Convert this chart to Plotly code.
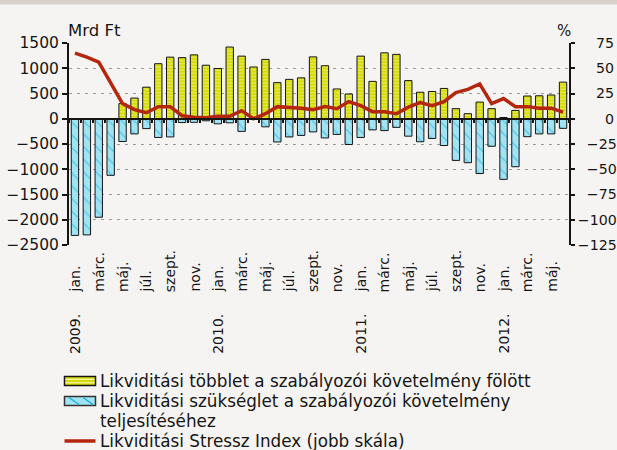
import plotly.graph_objects as go

# ---------------- data ----------------
month_names = ["jan.", "febr.", "márc.", "ápr.", "máj.", "jún.",
               "júl.", "aug.", "szept.", "okt.", "nov.", "dec."]
years = ["2009.", "2010.", "2011.", "2012."]
periods = [f"{y} {m}" for y in years for m in month_names][:42]   # 2009. jan. – 2012. jún.

tick_months = ["jan.", "márc.", "máj.", "júl.", "szept.", "nov."]

# Mrd Ft, left scale
surplus = [0, 0, 0, 0, 300, 410, 625, 1090, 1220, 1210,
           1265, 1060, 995, 1420, 1240, 1025, 1175, 715, 780, 810,
           1225, 1050, 590, 490, 1240, 740, 1305, 1275, 755, 525,
           540, 600, 200, 100, 330, 200, 25, 165, 450, 455,
           470, 725]
shortfall = [-2310, -2300, -1950, -1120, -450, -300, -195, -370, -360, -75,
             -70, -40, -100, -80, -250, -15, -160, -460, -360, -330,
             -260, -380, -310, -510, -370, -220, -235, -170, -345, -455,
             -390, -530, -825, -870, -1085, -545, -1200, -950, -355, -300,
             -300, -190]
# %, right scale
stress_index = [65, 61, 56, 36, 15, 9, 6, 12, 12, 3,
                1.5, 1, 2.5, 2.5, 8, 0, 5, 12, 11.5, 10.5,
                9, 12, 10, 17, 13, 7, 7, 5, 11.5, 16,
                13, 17, 26, 29, 34.5, 15, 20, 12, 12, 10.5,
                10.5, 6.5]

left_ticks = [-2500, -2000, -1500, -1000, -500, 0, 500, 1000, 1500]
right_ticks = [-125, -100, -75, -50, -25, 0, 25, 50, 75]

legend_texts = ["Likviditási többlet a szabályozói követelmény fölött",
                "Likviditási szükséglet a szabályozói követelmény",
                "teljesítéséhez",
                "Likviditási Stressz Index (jobb skála)"]
left_title = "Mrd Ft"
right_title = "%"

# ---------------- style ----------------
W, H = 617, 450
L, R, T, B = 69, 48, 43, 205
PW, PH = W - L - R, H - T - B
FONT = "DejaVu Sans"
BG = "#f5f4f2"
YEL = "#d6dc00"
YEL_L = "#f3f3a2"
BLU = "#a2e3f3"
BLU_D = "#17addd"
RED = "#b5260f"
INK = "#151515"


def px(x):
    return (x - L) / PW


def py(y):
    return (H - B - y) / PH


x = list(range(len(periods)))

fig = go.Figure()
fig.add_trace(go.Bar(
    x=x, y=shortfall, width=0.62, showlegend=False, hoverinfo="skip",
    marker=dict(color=BLU, line=dict(color=INK, width=1),
                pattern=dict(shape="\\", fgcolor=BLU_D, bgcolor=BLU,
                             size=9, solidity=0.16))))
fig.add_trace(go.Bar(
    x=x, y=surplus, width=0.62, showlegend=False, hoverinfo="skip",
    marker=dict(color=YEL, line=dict(color=INK, width=1),
                pattern=dict(shape="-", fgcolor=YEL_L, bgcolor=YEL,
                             size=3.2, solidity=0.45))))
fig.add_trace(go.Scatter(
    x=x, y=stress_index, xaxis="x2", yaxis="y2", mode="lines",
    showlegend=False, hoverinfo="skip", line=dict(color=RED, width=3.5)))

right_text = []
for v in right_ticks:
    s = str(v).replace("-", "\u2212")
    right_text.append("\u2007" * (4 - len(s)) + s)

fig.update_layout(
    width=W, height=H,
    margin=dict(l=L, r=R, t=T, b=B, pad=0, autoexpand=False),
    paper_bgcolor=BG, plot_bgcolor=BG,
    barmode="overlay",
    font=dict(family=FONT, size=15, color=INK),
    xaxis=dict(range=[-0.5, len(periods) - 0.5], showticklabels=False,
               automargin=False,
               showgrid=False, zeroline=False, showline=False, ticks=""),
    xaxis2=dict(range=[-0.5, len(periods) - 0.5], overlaying="x",
                anchor="free", position=2500 / 4000, side="bottom",
                automargin=False,
                tickvals=[i - 0.5 for i in range(len(periods) + 1)],
                ticks="outside", ticklen=3, tickwidth=2, tickcolor=INK,
                showticklabels=False, showgrid=False, zeroline=False,
                showline=True, linecolor=INK, linewidth=2),
    yaxis=dict(range=[-2500, 1500], tickvals=left_ticks, automargin=False,
               showgrid=True, gridcolor="#9a9a9a", gridwidth=1,
               griddash="3px,5px", zeroline=False,
               showline=True, linecolor=INK, linewidth=2,
               ticks="outside", ticklen=5, tickwidth=2, tickcolor=INK,
               tickfont=dict(size=15.5, color=INK)),
    yaxis2=dict(range=[-125, 75], tickvals=right_ticks, ticktext=right_text,
                overlaying="y", side="right", anchor="x", automargin=False,
                showgrid=False, zeroline=False,
                showline=True, linecolor=INK, linewidth=2,
                ticks="outside", ticklen=4, tickwidth=2, tickcolor=INK,
                tickfont=dict(size=14.2, color=INK)),
)

shapes = []
ann = []

# top band
shapes.append(dict(type="rect", xref="paper", yref="paper", layer="below",
                   x0=px(0), x1=px(W), y0=py(0), y1=py(4.5),
                   fillcolor="#d6d1cc", line=dict(width=0)))

# axis titles
ann.append(dict(text=left_title, xref="paper", yref="paper", x=px(66), y=py(31),
                xanchor="left", yanchor="middle", showarrow=False,
                font=dict(size=16.5, family=FONT, color=INK)))
ann.append(dict(text=right_title, xref="paper", yref="paper", x=px(564), y=py(31),
                xanchor="center", yanchor="middle", showarrow=False,
                font=dict(size=15, family=FONT, color=INK)))

# category labels
for i, p in enumerate(periods):
    yr, m = p.split(" ")
    if m in tick_months:
        ann.append(dict(text=m, xref="x", yref="paper", x=i, y=0,
                        yshift=-(294 - (H - B)), yanchor="bottom",
                        xanchor="center", textangle=-90, showarrow=False,
                        font=dict(size=14, family=FONT, color=INK)))
    if m == "jan.":
        ann.append(dict(text=yr, xref="x", yref="paper", x=i, y=0,
                        yshift=-(356 - (H - B)), yanchor="bottom",
                        xanchor="center", textangle=-90, showarrow=False,
                        font=dict(size=14, family=FONT, color=INK)))

# legend
sx0, sx1 = 64.5, 95.5
shapes.append(dict(type="rect", xref="paper", yref="paper",
                   x0=px(sx0), x1=px(sx1), y0=py(376.5), y1=py(385.5),
                   fillcolor=YEL, line=dict(color=INK, width=1.5)))
for yy in (379.3, 382.7):
    shapes.append(dict(type="line", xref="paper", yref="paper",
                       x0=px(sx0 + 1), x1=px(sx1 - 1), y0=py(yy), y1=py(yy),
                       line=dict(color=YEL_L, width=1.3)))
shapes.append(dict(type="rect", xref="paper", yref="paper",
                   x0=px(sx0), x1=px(sx1), y0=py(396.5), y1=py(405.5),
                   fillcolor=BLU, line=dict(color="#333333", width=1.5)))
for xa in (69, 83):
    shapes.append(dict(type="line", xref="paper", yref="paper",
                       x0=px(xa), x1=px(xa + 10), y0=py(397.5), y1=py(404.5),
                       line=dict(color=BLU_D, width=1.3)))
shapes.append(dict(type="line", xref="paper", yref="paper",
                   x0=px(sx0), x1=px(sx1), y0=py(441), y1=py(441),
                   line=dict(color=RED, width=3.5)))

for txt, yc in zip(legend_texts, [380.5, 400.5, 420.5, 440.5]):
    ann.append(dict(text=txt, xref="paper", yref="paper", x=px(98), y=py(yc),
                    xanchor="left", yanchor="middle", showarrow=False,
                    font=dict(size=16.8, family=FONT, color=INK)))

fig.update_layout(shapes=shapes, annotations=ann)
fig.write_html(
    "out.html",
    config={"displayModeBar": False},
    post_script="document.body.style.margin='0';"
                "document.body.style.overflow='hidden';"
                "document.documentElement.style.overflow='hidden';",
)
